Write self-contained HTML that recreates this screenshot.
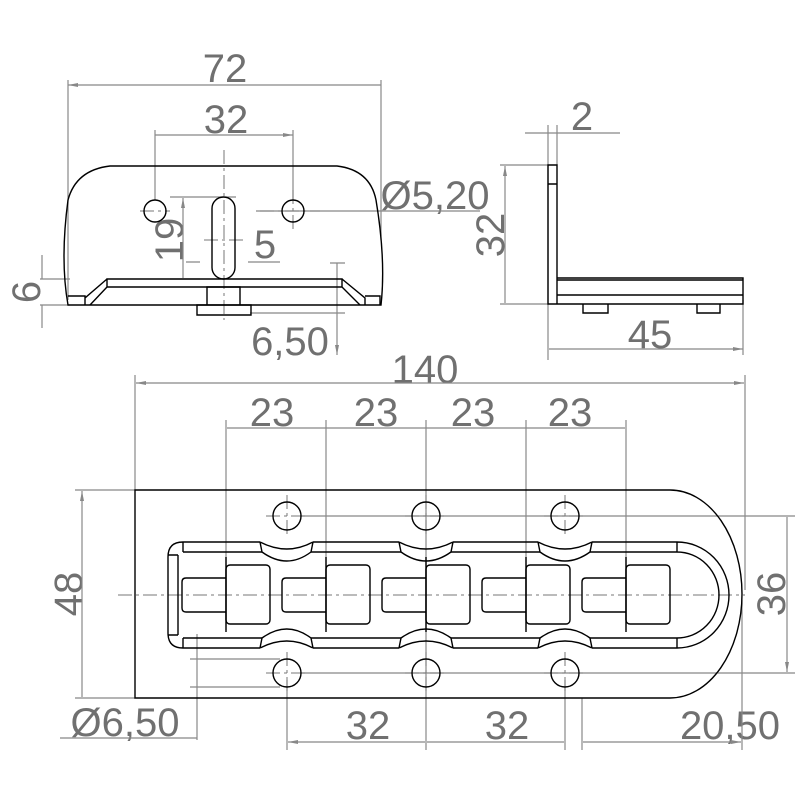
<!DOCTYPE html>
<html><head><style>body{margin:0;background:#fff}svg{display:block}</style></head><body>
<svg width="800" height="800" viewBox="0 0 800 800" xmlns="http://www.w3.org/2000/svg">
<defs>
<marker id="a" viewBox="0 0 10 6" refX="10" refY="3" markerWidth="10" markerHeight="6" orient="auto-start-reverse" markerUnits="userSpaceOnUse"><path d="M0,1 L10,3 L0,5z" fill="#888"/></marker>
</defs>
<g font-family="Liberation Sans, sans-serif" font-size="40" fill="#707070" text-anchor="middle">
<text x="225" y="82">72</text>
<text x="226" y="133">32</text>
<text x="435" y="209">Ø5,20</text>
<text x="265" y="258">5</text>
<text x="290" y="355">6,50</text>
<text transform="translate(183,240) rotate(-90)">19</text>
<text transform="translate(40,292) rotate(-90)">6</text>
<text x="582" y="130">2</text>
<text transform="translate(504,235) rotate(-90)">32</text>
<text x="650" y="348">45</text>
<text x="425" y="383">140</text>
<text x="272" y="426">23</text>
<text x="376" y="426">23</text>
<text x="473" y="426">23</text>
<text x="570" y="426">23</text>
<text transform="translate(82,594) rotate(-90)">48</text>
<text transform="translate(785,594) rotate(-90)">36</text>
<text x="368" y="739">32</text>
<text x="507" y="739">32</text>
<text x="730" y="739">20,50</text>
<text x="125" y="736">Ø6,50</text>
</g>
<g stroke="#888" stroke-width="1.2" fill="none">
<path d="M68 80V300M381 80V240M155 130V200M293 130V200"/>
<path d="M68 85H381M155 135H293" marker-start="url(#a)" marker-end="url(#a)"/>
<path d="M170 197H236M170 279H200M40 279H70M40 305H70M330 263H345M250 313H345"/>
<path d="M183 198V278M42 255V279M42 305V328M337 263V355" marker-start="url(#a)" marker-end="url(#a)"/>
<path d="M186 262H200M248 262H280" />
<path d="M256 211H480"/>
<path d="M548 125V360M557 125V165M500 165H548M500 304H548M743 300V355M525 133H620"/>
<path d="M505 166V303M549 349H743" marker-start="url(#a)" marker-end="url(#a)"/>
<path d="M135 375V490M745 375V590M226 420V630M326 420V630M426 420V680M526 420V630M626 420V630"/>
<path d="M136 383H744" marker-start="url(#a)" marker-end="url(#a)"/>
<path d="M227 428H625"/>
<path d="M75 490H135M75 698H135M300 516H795M300 673H795M287 680V750M426 680V750M565 680V750M582 698V750M742 600V750"/>
<path d="M82 491V697M787 517V672" marker-start="url(#a)" marker-end="url(#a)"/>
<path d="M288 742H425M427 742H564M583 742H741" marker-start="url(#a)" marker-end="url(#a)"/>
<path d="M60 738H197M197 634V740M190 659H280M190 687H280"/>
</g>
<g stroke="#777" stroke-width="1" stroke-dasharray="14,4,3,4" fill="none">
<path d="M224 150V320M140 211H170M260 211H320M293 190V232M204 240H244"/>
<path d="M118 595H745"/>
<path d="M287 495V535M426 495V535M565 495V535M287 652V694M426 652V694M565 652V694M266 516H308M405 516H447M544 516H586M266 673H308M405 673H447M544 673H586"/>
</g>
<g stroke="#000" stroke-width="1.4" fill="none">
<path d="M110 166H337Q370 170 376 200Q386 260 381 305H68Q60 260 68 200Q76 170 110 166Z"/>
<path d="M107 279H342V287H107Z M107 279L85 298V305M107 287L90 305M342 279L365 298V305M342 287L360 305M68 296H85V305M365 296H380V305"/>
<path d="M207 287H240V305H207ZM197 305H251V315H197Z"/>
<circle cx="155" cy="211" r="11"/><circle cx="293" cy="211" r="11"/>
<rect x="212" y="197" width="23" height="82" rx="11.5"/>
<path d="M548 165H557V304H548ZM548 184H557M557 278H743V304H557M557 280H743M557 295H743M583 304H608V313H583ZM697 304H720V313H697Z"/>
<path d="M135 490H670A72 104 0 0 1 670 698H135Z"/>
<circle cx="287" cy="516" r="14"/><circle cx="426" cy="516" r="14"/><circle cx="565" cy="516" r="14"/>
<circle cx="287" cy="673" r="14"/><circle cx="426" cy="673" r="14"/><circle cx="565" cy="673" r="14"/>
<path d="M183 542H260M313 542H399M453 542H538M592 542H677M183 648H260M313 648H399M453 648H538M592 648H677"/>
<path d="M183 552H262M311 552H401M451 552H540M590 552H677M183 638H262M311 638H401M451 638H540M590 638H677"/>
<path d="M260 542Q287 556 313 542M262 552Q287 570 311 552M260 542L262 552M313 542L311 552"/>
<path d="M399 542Q426 556 453 542M401 552Q426 570 451 552M399 542L401 552M453 542L451 552"/>
<path d="M538 542Q565 556 592 542M540 552Q565 570 590 552M538 542L540 552M592 542L590 552"/>
<path d="M260 648Q287 634 313 648M262 638Q287 620 311 638M260 648L262 638M313 648L311 638"/>
<path d="M399 648Q426 634 453 648M401 638Q426 620 451 638M399 648L401 638M453 648L451 638"/>
<path d="M538 648Q565 634 592 648M540 638Q565 620 590 638M538 648L540 638M592 648L590 638"/>
<path d="M183 542Q168 542 168 557V633Q168 648 183 648M183 542V552M183 648V638M178 555V635M168 555H178M168 635H178"/>
<path d="M677 542V552M677 638V648M677 542A52 53 0 0 1 677 648M677 552A42 43 0 0 1 677 638"/>
<g id="u">
<rect x="226" y="565" width="44" height="59" rx="4"/>
<path d="M226 578H186Q182 578 182 582V608Q182 612 186 612H226M226 557V632"/>
</g>
<use href="#u" x="100"/><use href="#u" x="200"/><use href="#u" x="300"/><use href="#u" x="400"/>
</g>
</svg>
</body></html>
